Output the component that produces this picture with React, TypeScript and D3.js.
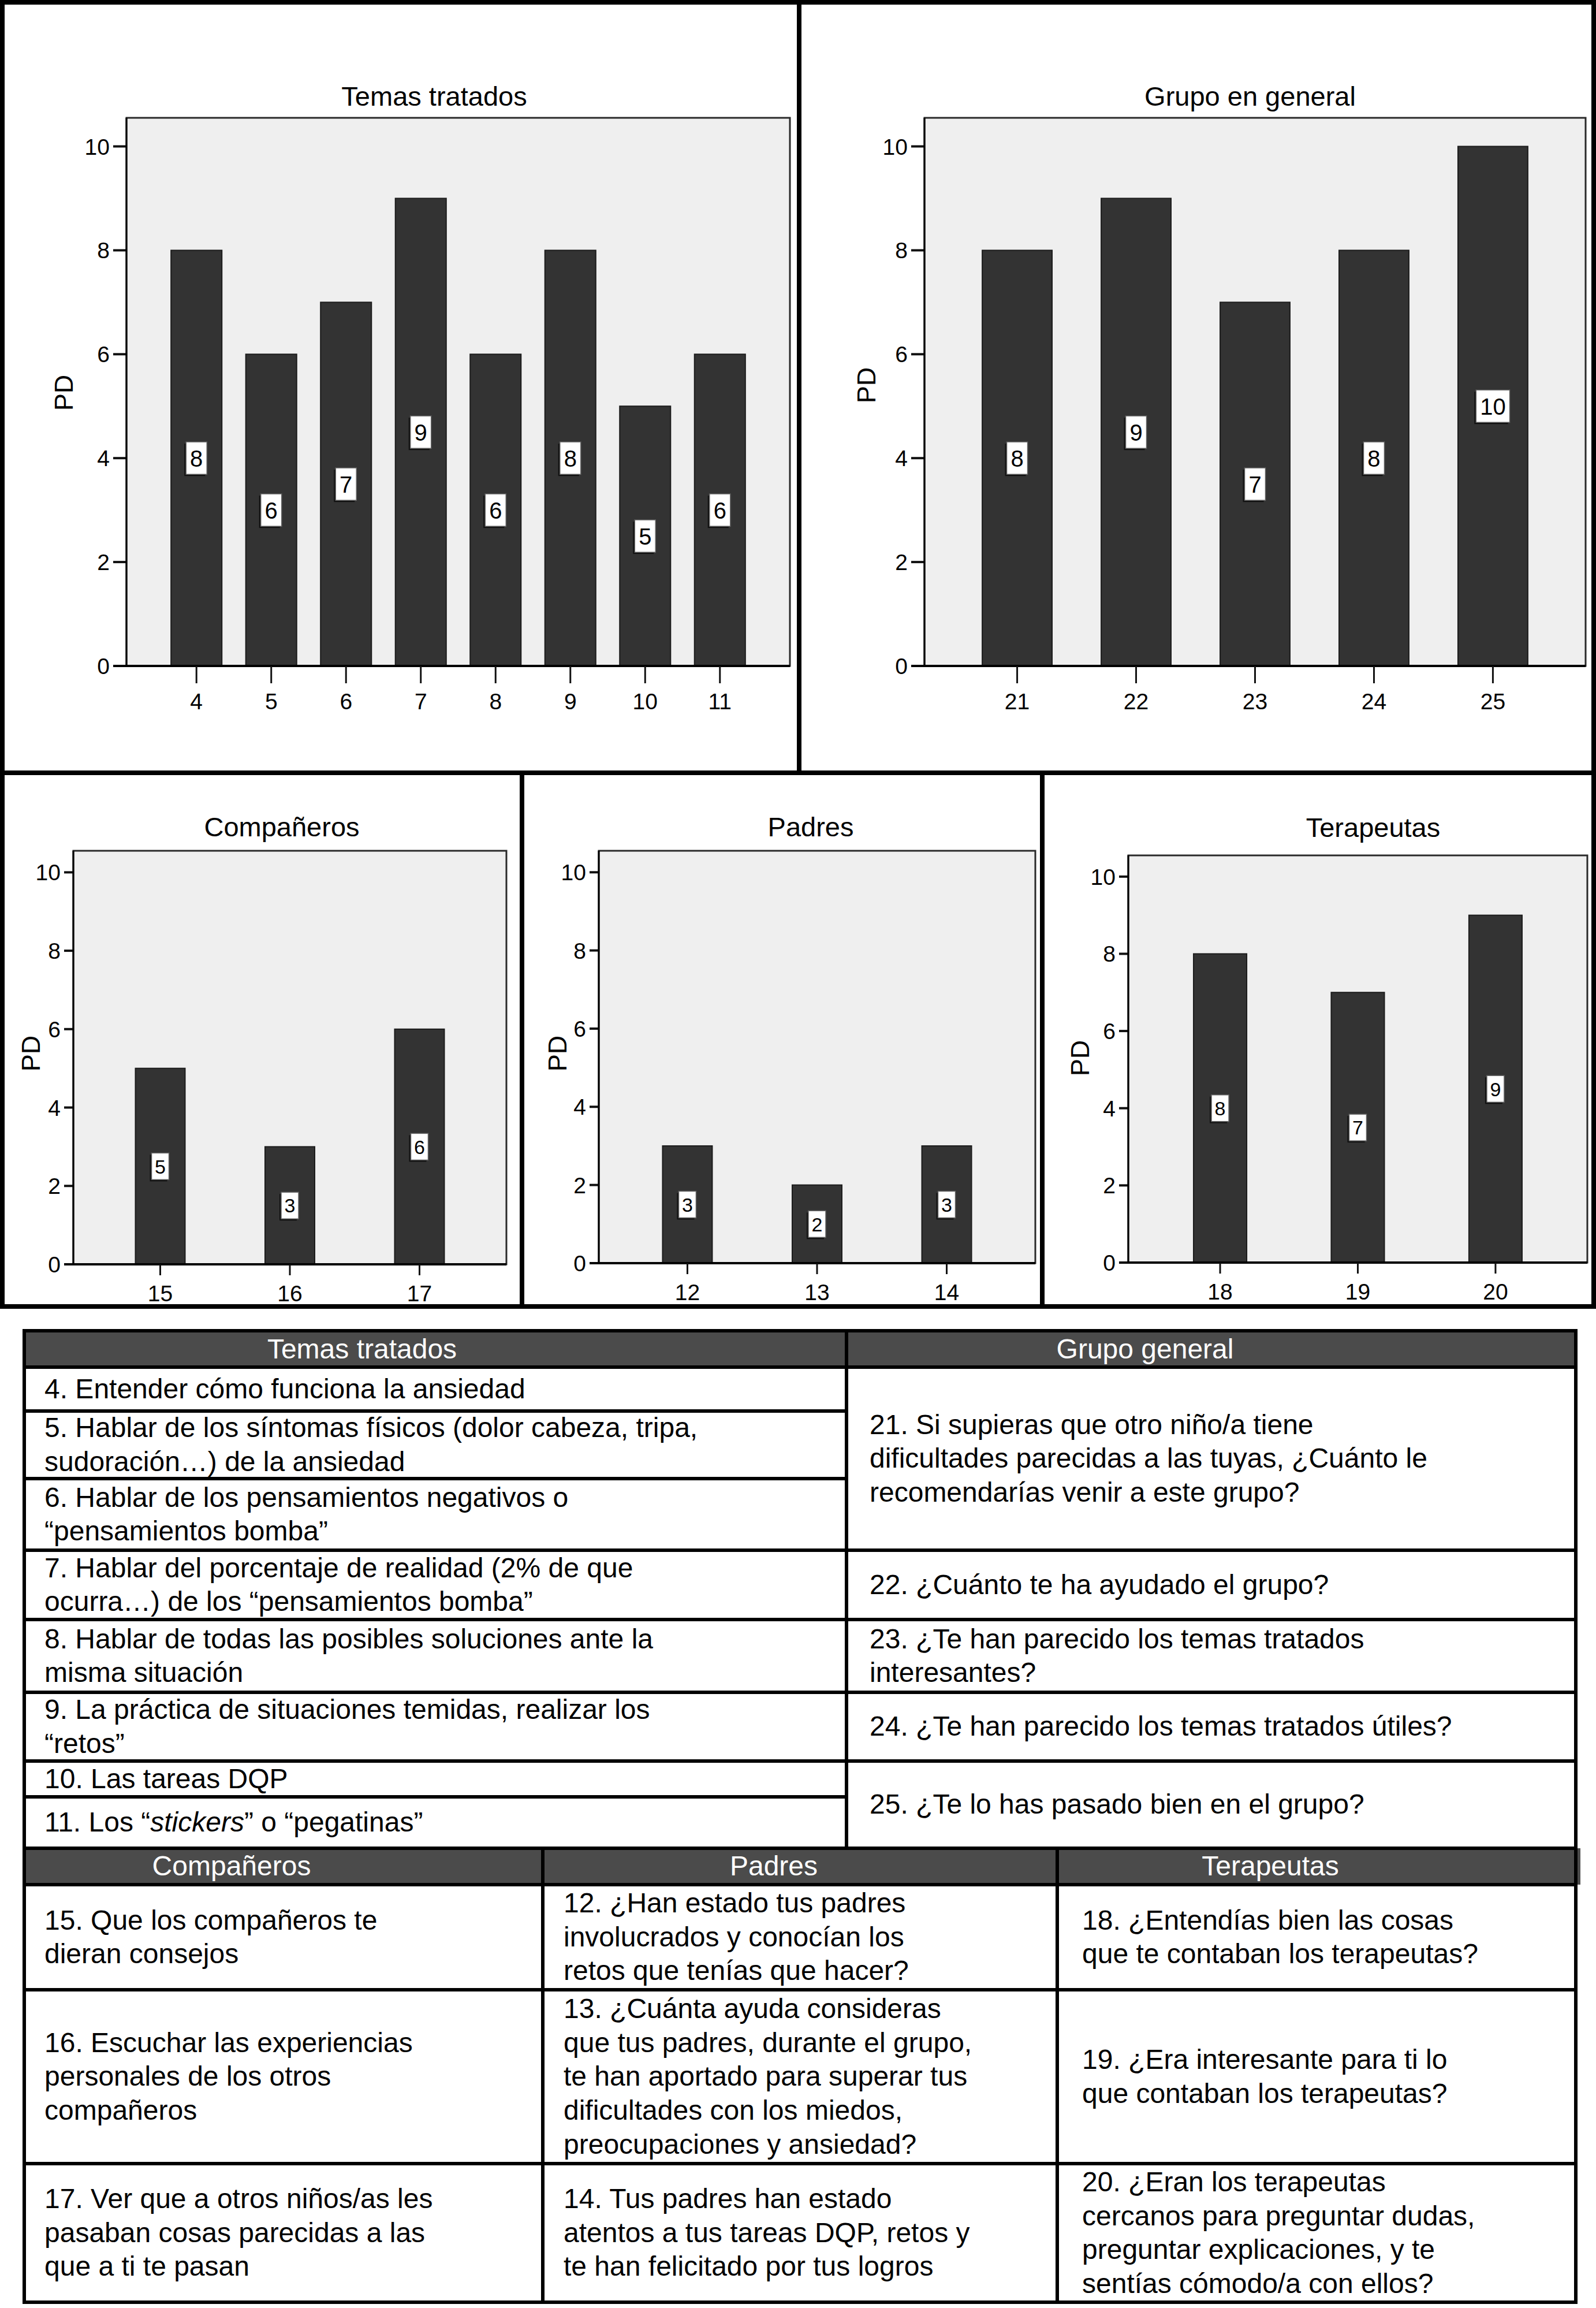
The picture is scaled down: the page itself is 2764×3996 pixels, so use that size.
import React, { useEffect } from 'react';
import * as d3 from 'd3';

// ---------- DATA ----------
const temasCats = ['4', '5', '6', '7', '8', '9', '10', '11'];
const temasVals = [8, 6, 7, 9, 6, 8, 5, 6];
const grupoCats = ['21', '22', '23', '24', '25'];
const grupoVals = [8, 9, 7, 8, 10];
const companerosCats = ['15', '16', '17'];
const companerosVals = [5, 3, 6];
const padresCats = ['12', '13', '14'];
const padresVals = [3, 2, 3];
const terapeutasCats = ['18', '19', '20'];
const terapeutasVals = [8, 7, 9];
const yTicks = [0, 2, 4, 6, 8, 10];
const chartTitles = ['Temas tratados', 'Grupo en general', 'Compañeros', 'Padres', 'Terapeutas'];
const yAxisLabel = 'PD';

const tableHeaders = ['Temas tratados', 'Grupo general', 'Compañeros', 'Padres', 'Terapeutas'];
const temasItems = [
  ['4. Entender cómo funciona la ansiedad'],
  ['5. Hablar de los síntomas físicos (dolor cabeza, tripa,', 'sudoración…) de la ansiedad'],
  ['6. Hablar de los pensamientos negativos o', '“pensamientos bomba”'],
  ['7. Hablar del porcentaje de realidad (2% de que', 'ocurra…) de los “pensamientos bomba”'],
  ['8. Hablar de todas las posibles soluciones ante la', 'misma situación'],
  ['9. La práctica de situaciones temidas, realizar los', '“retos”'],
  ['10. Las tareas DQP'],
  ['11. Los “*stickers*” o “pegatinas”'],
];
const grupoItems = [
  ['21. Si supieras que otro niño/a tiene', 'dificultades parecidas a las tuyas, ¿Cuánto le', 'recomendarías venir a este grupo?'],
  ['22. ¿Cuánto te ha ayudado el grupo?'],
  ['23. ¿Te han parecido los temas tratados', 'interesantes?'],
  ['24. ¿Te han parecido los temas tratados útiles?'],
  ['25. ¿Te lo has pasado bien en el grupo?'],
];
const companerosItems = [
  ['15. Que los compañeros te', 'dieran consejos'],
  ['16. Escuchar las experiencias', 'personales de los otros', 'compañeros'],
  ['17. Ver que a otros niños/as les', 'pasaban cosas parecidas a las', 'que a ti te pasan'],
];
const padresItems = [
  ['12. ¿Han estado tus padres', 'involucrados y conocían los', 'retos que tenías que hacer?'],
  ['13. ¿Cuánta ayuda consideras', 'que tus padres, durante el grupo,', 'te han aportado para superar tus', 'dificultades con los miedos,', 'preocupaciones y ansiedad?'],
  ['14. Tus padres han estado', 'atentos a tus tareas DQP, retos y', 'te han felicitado por tus logros'],
];
const terapeutasItems = [
  ['18. ¿Entendías bien las cosas', 'que te contaban los terapeutas?'],
  ['19. ¿Era interesante para ti lo', 'que contaban los terapeutas?'],
  ['20. ¿Eran los terapeutas', 'cercanos para preguntar dudas,', 'preguntar explicaciones, y te', 'sentías cómodo/a con ellos?'],
];

// ---------- LAYOUT ----------
const FONT = '"Liberation Sans", Arial, Helvetica, sans-serif';
const W = 2764;
const H = 3996;

type Layout = {
  left: number; right: number; top: number; base: number;
  pi: number; po: number; titleX: number; titleY: number;
  pdX: number; pdY: number; tickFont: number; valFont: number;
  boxW: number; boxH: number; yTickLen: number; xTickLen: number; xLabOff: number;
};

const topLayouts: Layout[] = [
  { left: 219, right: 1368, top: 204, base: 1153, pi: 0.32, po: 0.596, titleX: 752, titleY: 183, pdX: 110, pdY: 680, tickFont: 39, valFont: 40, boxW: 36, boxH: 56, yTickLen: 23, xTickLen: 30, xLabOff: 75 },
  { left: 1601, right: 2746, top: 204, base: 1153, pi: 0.413, po: 0.486, titleX: 2165, titleY: 183, pdX: 1500, pdY: 667, tickFont: 39, valFont: 40, boxW: 36, boxH: 56, yTickLen: 23, xTickLen: 30, xLabOff: 75 },
];
const bottomLayouts: Layout[] = [
  { left: 127, right: 877, top: 1473, base: 2189, pi: 0.617, po: 0.479, titleX: 488, titleY: 1448, pdX: 53, pdY: 1824, tickFont: 39, valFont: 34, boxW: 30, boxH: 46, yTickLen: 16, xTickLen: 19, xLabOff: 64 },
  { left: 1037, right: 1793, top: 1473, base: 2187, pi: 0.617, po: 0.492, titleX: 1404, titleY: 1448, pdX: 965, pdY: 1824, tickFont: 39, valFont: 34, boxW: 30, boxH: 46, yTickLen: 16, xTickLen: 19, xLabOff: 64 },
  { left: 1954, right: 2749, top: 1481, base: 2186, pi: 0.614, po: 0.474, titleX: 2378, titleY: 1449, pdX: 1870, pdY: 1832, tickFont: 39, valFont: 34, boxW: 30, boxH: 46, yTickLen: 16, xTickLen: 19, xLabOff: 64 },
];

function BarPanel({ cats, vals, title, L }: { cats: string[]; vals: number[]; title: string; L: Layout }) {
  const x = d3.scaleBand<string>().domain(cats).range([L.left, L.right]).paddingInner(L.pi).paddingOuter(L.po);
  const y = d3.scaleLinear().domain([0, 10.55]).range([L.base, L.top]);
  const bw = x.bandwidth();
  return (
    <g>
      <text x={L.titleX} y={L.titleY} fontSize={47} textAnchor="middle" fontFamily={FONT} fill="#000">{title}</text>
      <rect x={L.left} y={y(10.55)} width={L.right - L.left} height={y(0) - y(10.55)} fill="#efefef" stroke="#2a2a2a" strokeWidth={3} />
      {cats.map((c, i) => (
        <rect key={c} x={x(c)!} y={y(vals[i])} width={bw} height={y(0) - y(vals[i])} fill="#333333" stroke="#1c1c1c" strokeWidth={2} />
      ))}
      {/* y axis */}
      {yTicks.map((t) => (
        <g key={t}>
          <line x1={L.left - L.yTickLen} x2={L.left} y1={y(t)} y2={y(t)} stroke="#111" strokeWidth={4} />
          <text x={L.left - L.yTickLen - 6} y={y(t) + L.tickFont * 0.36} fontSize={L.tickFont} textAnchor="end" fontFamily={FONT} fill="#000">{t}</text>
        </g>
      ))}
      <line x1={L.left} x2={L.left} y1={y(10.55)} y2={y(0)} stroke="#000" strokeWidth={3} />
      {/* x axis */}
      <line x1={L.left - L.yTickLen} x2={L.right} y1={y(0)} y2={y(0)} stroke="#000" strokeWidth={4} />
      {cats.map((c) => (
        <g key={c}>
          <line x1={x(c)! + bw / 2} x2={x(c)! + bw / 2} y1={y(0)} y2={y(0) + L.xTickLen} stroke="#111" strokeWidth={3} />
          <text x={x(c)! + bw / 2} y={y(0) + L.xLabOff} fontSize={L.tickFont} textAnchor="middle" fontFamily={FONT} fill="#000">{c}</text>
        </g>
      ))}
      {/* value labels */}
      {cats.map((c, i) => {
        const cx = x(c)! + bw / 2;
        const cy = y(vals[i] / 2);
        const txt = String(vals[i]);
        const w = L.boxW + (txt.length - 1) * L.valFont * 0.556;
        return (
          <g key={'v' + c}>
            <rect x={cx - w / 2 - 3} y={cy - L.boxH / 2 + 3} width={w} height={L.boxH} fill="#111" />
            <rect x={cx - w / 2} y={cy - L.boxH / 2} width={w} height={L.boxH} fill="#ffffff" stroke="#666" strokeWidth={1.5} />
            <text x={cx} y={cy + L.valFont * 0.36} fontSize={L.valFont} textAnchor="middle" fontFamily={FONT} fill="#000">{txt}</text>
          </g>
        );
      })}
      <text transform={`translate(${L.pdX},${L.pdY}) rotate(-90)`} fontSize={45} textAnchor="middle" dominantBaseline="central" fontFamily={FONT} fill="#000">{yAxisLabel}</text>
    </g>
  );
}

const TFONT = 48;
const LINE_H = 58.6;

function renderLine(s: string, x: number, y: number, key: string) {
  const parts = s.split('*');
  return (
    <text key={key} x={x} y={y} fontSize={TFONT} fontFamily={FONT} fill="#000">
      {parts.map((p, i) => (
        <tspan key={i} fontStyle={i % 2 === 1 ? 'italic' : 'normal'}>{p}</tspan>
      ))}
    </text>
  );
}

function Cell({ lines, x, y0, y1, k }: { lines: string[]; x: number; y0: number; y1: number; k: string }) {
  const c = (y0 + y1) / 2;
  const n = lines.length;
  return (
    <g>
      {lines.map((ln, i) => renderLine(ln, x, c + (i - (n - 1) / 2) * LINE_H + TFONT * 0.33, k + i))}
    </g>
  );
}

function Table() {
  const L = 42, R = 2729, T = 2304, B = 3986;
  const midX = 1466;
  const div1 = 940, div2 = 1831;
  const leftRows = [2367, 2443, 2560, 2684, 2804, 2930, 3049, 3111, 3200];
  const rightRows = [2367, 2684, 2804, 2930, 3049, 3200];
  const lowRows = [3263, 3445, 3746, 3986];
  const headerFill = '#4b4b4b';
  const sw = 6;
  return (
    <g>
      <rect x={L} y={T} width={R - L} height={2367 - T} fill={headerFill} />
      <rect x={L} y={3200} width={R - L + 8} height={3263 - 3200} fill={headerFill} />
      {/* header texts */}
      <text x={627} y={2336 + 16} fontSize={TFONT} textAnchor="middle" fontFamily={FONT} fill="#fff">{tableHeaders[0]}</text>
      <text x={1983} y={2336 + 16} fontSize={TFONT} textAnchor="middle" fontFamily={FONT} fill="#fff">{tableHeaders[1]}</text>
      <text x={401} y={3231 + 16} fontSize={TFONT} textAnchor="middle" fontFamily={FONT} fill="#fff">{tableHeaders[2]}</text>
      <text x={1340} y={3231 + 16} fontSize={TFONT} textAnchor="middle" fontFamily={FONT} fill="#fff">{tableHeaders[3]}</text>
      <text x={2200} y={3231 + 16} fontSize={TFONT} textAnchor="middle" fontFamily={FONT} fill="#fff">{tableHeaders[4]}</text>
      {/* cells */}
      {temasItems.map((it, i) => (
        <Cell key={'t' + i} k={'t' + i} lines={it} x={77} y0={leftRows[i]} y1={leftRows[i + 1]} />
      ))}
      {grupoItems.map((it, i) => (
        <Cell key={'g' + i} k={'g' + i} lines={it} x={1506} y0={rightRows[i]} y1={rightRows[i + 1]} />
      ))}
      {companerosItems.map((it, i) => (
        <Cell key={'c' + i} k={'c' + i} lines={it} x={77} y0={lowRows[i]} y1={lowRows[i + 1]} />
      ))}
      {padresItems.map((it, i) => (
        <Cell key={'p' + i} k={'p' + i} lines={it} x={976} y0={lowRows[i]} y1={lowRows[i + 1]} />
      ))}
      {terapeutasItems.map((it, i) => (
        <Cell key={'r' + i} k={'r' + i} lines={it} x={1874} y0={lowRows[i]} y1={lowRows[i + 1]} />
      ))}
      {/* lines */}
      <line x1={L - 3} x2={R + 3} y1={T} y2={T} stroke="#000" strokeWidth={sw} />
      <line x1={L} x2={L} y1={T} y2={B} stroke="#000" strokeWidth={sw} />
      <line x1={R} x2={R} y1={T} y2={B} stroke="#000" strokeWidth={sw} />
      <line x1={midX} x2={midX} y1={T} y2={3200} stroke="#000" strokeWidth={sw} />
      <line x1={div1} x2={div1} y1={3200} y2={B} stroke="#000" strokeWidth={sw} />
      <line x1={div2} x2={div2} y1={3200} y2={B} stroke="#000" strokeWidth={sw} />
      {leftRows.slice(0, -1).map((yy) => (
        <line key={'lr' + yy} x1={L} x2={midX} y1={yy} y2={yy} stroke="#000" strokeWidth={sw} />
      ))}
      {rightRows.slice(0, -1).map((yy) => (
        <line key={'rr' + yy} x1={midX} x2={R} y1={yy} y2={yy} stroke="#000" strokeWidth={sw} />
      ))}
      <line x1={L} x2={R} y1={3200} y2={3200} stroke="#000" strokeWidth={sw} />
      {lowRows.map((yy) => (
        <line key={'lo' + yy} x1={L - 3} x2={R + 3} y1={yy} y2={yy} stroke="#000" strokeWidth={sw} />
      ))}
    </g>
  );
}

export default function App() {
  useEffect(() => {
    document.body.style.margin = '0';
  }, []);
  return (
    <svg width={W} height={H} viewBox={`0 0 ${W} ${H}`} style={{ display: 'block', background: '#fff' }}>
      <rect x={0} y={0} width={W} height={H} fill="#fff" />
      <BarPanel cats={temasCats} vals={temasVals} title={chartTitles[0]} L={topLayouts[0]} />
      <BarPanel cats={grupoCats} vals={grupoVals} title={chartTitles[1]} L={topLayouts[1]} />
      <BarPanel cats={companerosCats} vals={companerosVals} title={chartTitles[2]} L={bottomLayouts[0]} />
      <BarPanel cats={padresCats} vals={padresVals} title={chartTitles[3]} L={bottomLayouts[1]} />
      <BarPanel cats={terapeutasCats} vals={terapeutasVals} title={chartTitles[4]} L={bottomLayouts[2]} />
      {/* panel borders */}
      <rect x={4} y={4} width={2756} height={1334} fill="none" stroke="#000" strokeWidth={8} />
      <line x1={1384} x2={1384} y1={0} y2={1338} stroke="#000" strokeWidth={8} />
      <rect x={4} y={1338} width={2756} height={924} fill="none" stroke="#000" strokeWidth={8} />
      <line x1={904} x2={904} y1={1338} y2={2262} stroke="#000" strokeWidth={8} />
      <line x1={1805} x2={1805} y1={1338} y2={2262} stroke="#000" strokeWidth={8} />
      <Table />
    </svg>
  );
}
